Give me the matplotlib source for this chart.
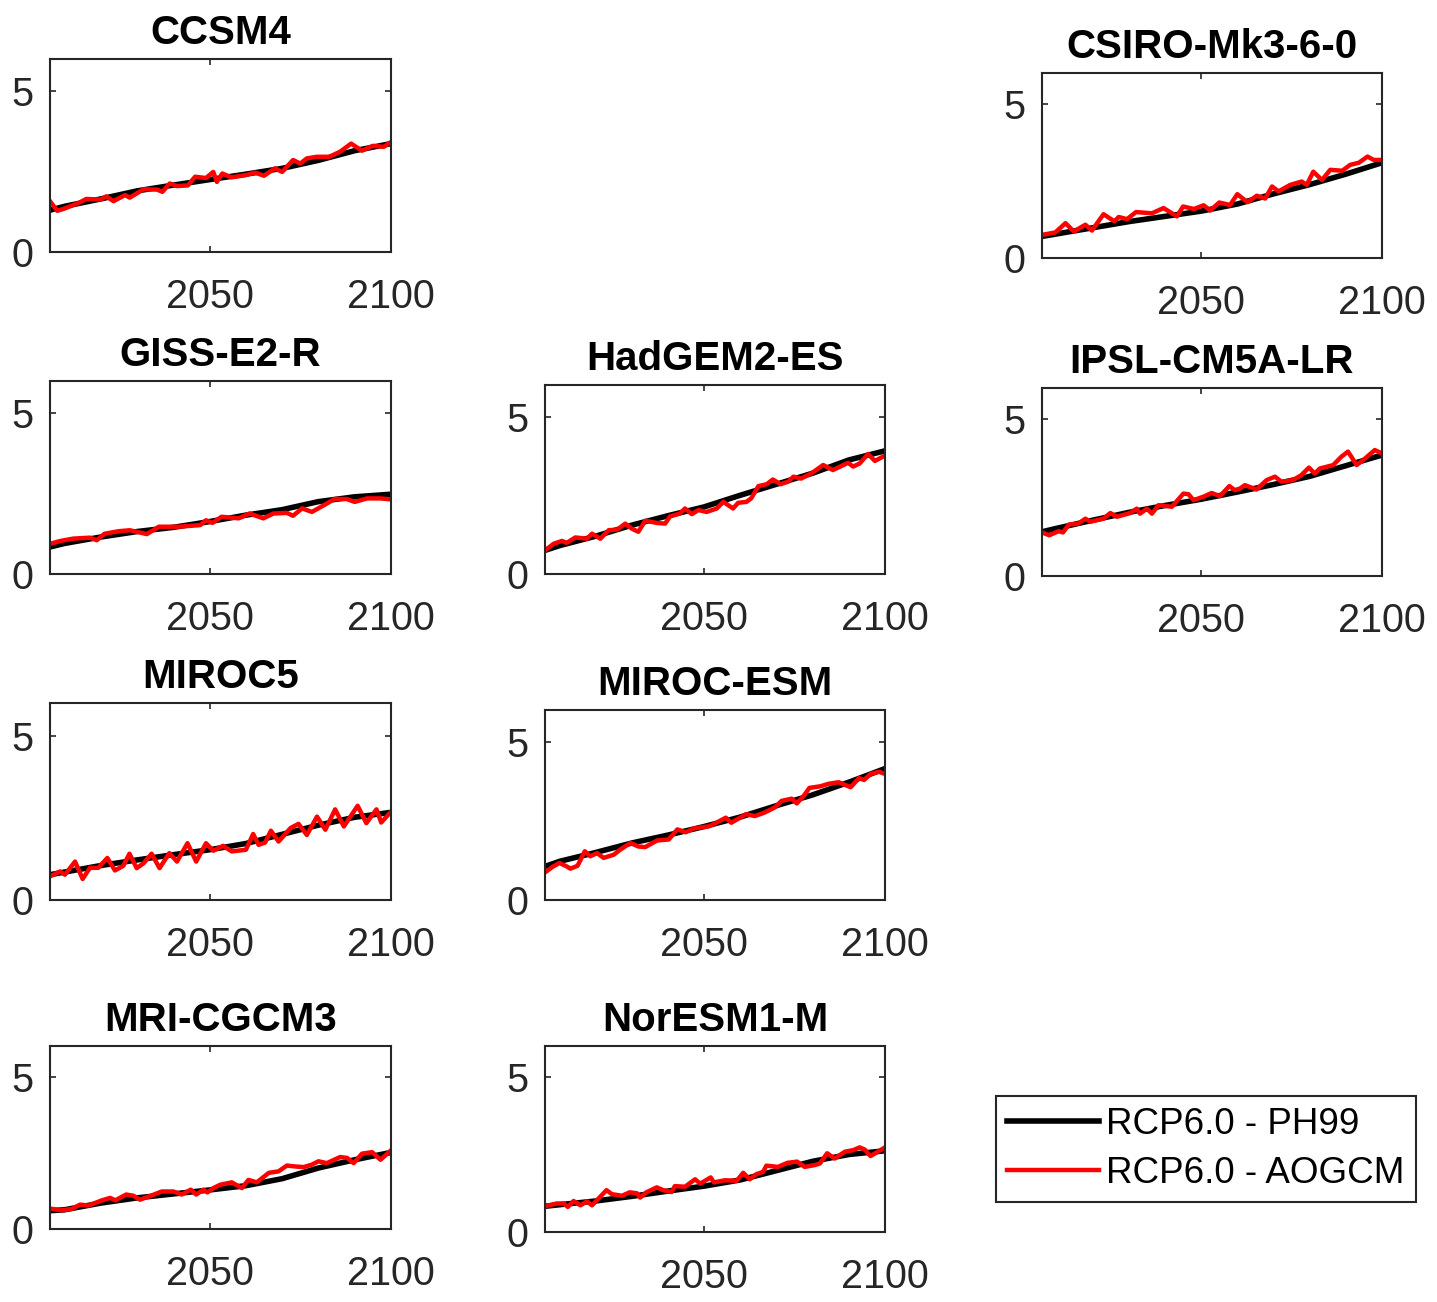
import matplotlib
matplotlib.use("Agg")
import matplotlib.pyplot as plt
from matplotlib.lines import Line2D

plt.rcParams['font.family'] = ['Liberation Sans', 'DejaVu Sans']

W, H = 1437, 1302

models = ["CCSM4", "CSIRO-Mk3-6-0", "GISS-E2-R", "HadGEM2-ES", "IPSL-CM5A-LR",
          "MIROC5", "MIROC-ESM", "MRI-CGCM3", "NorESM1-M"]

# smooth PH99 curves (decadal samples)
ph_years = [2006, 2010, 2020, 2030, 2040, 2050, 2060, 2070, 2080, 2090, 2100]
ph99 = {
    "CCSM4":         [1.30, 1.42, 1.65, 1.90, 2.08, 2.25, 2.42, 2.60, 2.85, 3.15, 3.37],
    "CSIRO-Mk3-6-0": [0.70, 0.78, 0.98, 1.18, 1.35, 1.52, 1.75, 2.08, 2.38, 2.72, 3.09],
    "GISS-E2-R":     [0.84, 0.95, 1.15, 1.32, 1.45, 1.63, 1.83, 2.00, 2.25, 2.40, 2.48],
    "HadGEM2-ES":    [0.75, 0.90, 1.20, 1.55, 1.85, 2.13, 2.50, 2.85, 3.20, 3.62, 3.91],
    "IPSL-CM5A-LR":  [1.41, 1.52, 1.78, 2.03, 2.25, 2.45, 2.68, 2.92, 3.18, 3.52, 3.86],
    "MIROC5":        [0.77, 0.85, 1.05, 1.22, 1.38, 1.53, 1.72, 2.00, 2.28, 2.52, 2.67],
    "MIROC-ESM":     [1.06, 1.22, 1.50, 1.80, 2.05, 2.32, 2.62, 2.98, 3.32, 3.72, 4.15],
    "MRI-CGCM3":     [0.60, 0.63, 0.85, 1.02, 1.15, 1.28, 1.42, 1.65, 2.00, 2.27, 2.51],
    "NorESM1-M":     [0.83, 0.88, 1.00, 1.15, 1.32, 1.48, 1.68, 1.98, 2.28, 2.50, 2.62],
}

# AOGCM series
ccsm4_yr = [2006, 2008, 2010, 2014, 2016, 2020, 2021.5, 2023.5, 2026.7, 2028, 2031.8, 2035.5, 2037, 2039, 2041,
            2044, 2046, 2049, 2051, 2052, 2053.5, 2056, 2060, 2062.5, 2065, 2068, 2070, 2073, 2075, 2076.8,
            2079.6, 2083, 2086, 2089, 2092, 2095, 2098, 2100]
ccsm4_v = [1.58, 1.28, 1.35, 1.53, 1.65, 1.63, 1.73, 1.58, 1.77, 1.69, 1.95, 1.94, 1.87, 2.13, 2.05,
           2.07, 2.34, 2.30, 2.49, 2.18, 2.44, 2.32, 2.39, 2.47, 2.37, 2.60, 2.49, 2.86, 2.75, 2.91,
           2.96, 2.96, 3.12, 3.37, 3.15, 3.30, 3.27, 3.42]

csiro_yr = [2006, 2009.7, 2012.5, 2014.8, 2018, 2019.8, 2023, 2026, 2027.2, 2029.5, 2032, 2036.4, 2039.6, 2043.3,
            2045, 2048, 2050.7, 2052.5, 2055, 2058, 2060, 2062.8, 2065.4, 2067.7, 2069.6, 2071.4, 2074.6, 2077.8,
            2079.2, 2081, 2083.4, 2085.7, 2089, 2091.2, 2093.6, 2096, 2097.7, 2100]
csiro_v = [0.75, 0.83, 1.13, 0.86, 1.08, 0.89, 1.42, 1.19, 1.33, 1.26, 1.49, 1.45, 1.62, 1.35,
           1.67, 1.59, 1.71, 1.54, 1.80, 1.72, 2.07, 1.81, 2.02, 1.93, 2.32, 2.16, 2.37, 2.48,
           2.37, 2.80, 2.53, 2.86, 2.83, 3.02, 3.09, 3.29, 3.18, 3.18]

giss_yr = [2006, 2009, 2012.4, 2017, 2018.9, 2021, 2024.9, 2028, 2032.7, 2036, 2041.4, 2047.4, 2049, 2050.8,
           2053.3, 2058, 2061, 2064.8, 2067.6, 2071.3, 2073, 2075.5, 2078.2, 2082, 2084.4, 2087.8, 2090,
           2093.4, 2097, 2100]
giss_v = [0.94, 1.03, 1.10, 1.13, 1.05, 1.25, 1.33, 1.36, 1.24, 1.47, 1.47, 1.52, 1.67, 1.59,
          1.78, 1.73, 1.88, 1.73, 1.88, 1.90, 1.81, 2.04, 1.93, 2.17, 2.33, 2.33, 2.24,
          2.35, 2.35, 2.32]

hadgem_yr = [2006, 2008.4, 2010.7, 2012, 2014.4, 2017.6, 2019, 2021.3, 2023.6, 2026, 2028.2, 2030, 2031.8, 2033.7,
             2037, 2039.2, 2040.6, 2043.3, 2044.7, 2046.6, 2048.4, 2050.7, 2053.5, 2055.3, 2058, 2059.4, 2061.7,
             2063, 2065, 2067.3, 2069, 2071.1, 2073.2, 2074.7, 2076.8, 2079.6, 2082.9, 2085.6, 2089.8, 2091.2,
             2093, 2095.3, 2097.2, 2100]
hadgem_v = [0.75, 0.96, 1.05, 0.99, 1.16, 1.12, 1.28, 1.12, 1.39, 1.41, 1.60, 1.44, 1.34, 1.69,
            1.62, 1.60, 1.83, 1.92, 2.08, 1.90, 2.03, 1.97, 2.08, 2.29, 2.08, 2.26, 2.29,
            2.40, 2.79, 2.85, 3.00, 2.85, 2.93, 3.09, 3.03, 3.19, 3.46, 3.30, 3.53, 3.41,
            3.51, 3.81, 3.59, 3.76]

ipsl_yr = [2006, 2008, 2010.6, 2011.8, 2013.4, 2016, 2018, 2019.3, 2023, 2024.9, 2026.7, 2030.4, 2032.2, 2033.1,
           2035, 2036.4, 2038.2, 2041.9, 2045.1, 2046.5, 2047.9, 2050.6, 2052.9, 2055.2, 2057.8, 2059.3, 2060.7,
           2062.1, 2065.3, 2068.1, 2070.4, 2072.2, 2075.4, 2077.7, 2079.8, 2081.4, 2082.8, 2086.5, 2088.8,
           2090.6, 2093, 2095.3, 2098, 2100]
ipsl_v = [1.39, 1.30, 1.43, 1.39, 1.64, 1.67, 1.83, 1.73, 1.83, 2.01, 1.89, 2.01, 2.15, 1.99,
          2.15, 1.99, 2.26, 2.21, 2.63, 2.61, 2.42, 2.53, 2.65, 2.55, 2.87, 2.74, 2.79,
          2.90, 2.76, 3.06, 3.17, 3.01, 3.06, 3.22, 3.46, 3.27, 3.43, 3.54, 3.81,
          3.97, 3.54, 3.75, 4.02, 3.91]

miroc5_yr = [2006, 2008.8, 2010.1, 2012.9, 2015, 2017, 2019.3, 2021.8, 2023.9, 2026.2, 2027.9, 2029.9, 2031.8,
             2034, 2036.2, 2038.9, 2041, 2043.9, 2046.3, 2049, 2051, 2053.7, 2056.1, 2060, 2062, 2063.5, 2065.3,
             2066.9, 2069, 2072.3, 2074.5, 2076.8, 2079.6, 2081.9, 2084.6, 2087, 2090.8, 2093.2, 2096, 2097.3,
             2100]
miroc5_v = [0.72, 0.87, 0.77, 1.17, 0.64, 0.98, 0.98, 1.28, 0.90, 1.04, 1.41, 0.97, 1.12,
            1.41, 0.97, 1.43, 1.17, 1.73, 1.17, 1.73, 1.50, 1.65, 1.48, 1.53, 2.01, 1.68, 1.75,
            2.11, 1.78, 2.19, 2.32, 1.98, 2.54, 2.14, 2.76, 2.24, 2.87, 2.34, 2.76, 2.36,
            2.69]

mirocesm_yr = [2006, 2008, 2010, 2012, 2013, 2015, 2017, 2018.5, 2020.4, 2022.2, 2025, 2026.8, 2029.6, 2031.8,
               2033.7, 2037, 2040.2, 2042.6, 2044.9, 2047.2, 2051.4, 2053.7, 2056, 2057.5, 2061.6, 2064, 2066.7,
               2069.5, 2071.4, 2074.2, 2075.6, 2077.4, 2079.1, 2082.1, 2084.4, 2087.2, 2090.5, 2092.8, 2094.2,
               2096, 2098.3, 2100]
mirocesm_v = [0.87, 1.04, 1.17, 1.06, 0.99, 1.08, 1.54, 1.38, 1.48, 1.33, 1.43, 1.59, 1.80, 1.69,
              1.67, 1.88, 1.91, 2.23, 2.14, 2.26, 2.33, 2.46, 2.60, 2.44, 2.71, 2.65, 2.76,
              2.92, 3.13, 3.20, 3.05, 3.27, 3.54, 3.59, 3.67, 3.72, 3.56, 3.85, 3.79,
              3.98, 4.05, 3.98]

mri_yr = [2006, 2009.2, 2012, 2014.3, 2016.6, 2020.3, 2022.6, 2024, 2027, 2029, 2030.8, 2034, 2036.8, 2040,
          2042.3, 2044.8, 2046.3, 2048.3, 2049.4, 2051, 2052.9, 2056.1, 2058.9, 2060.7, 2063, 2066.3, 2069,
          2071.3, 2073.6, 2075.9, 2078.2, 2080, 2082.3, 2086, 2087.9, 2089.7, 2092, 2094.8, 2097.1, 2100]
mri_v = [0.67, 0.61, 0.66, 0.80, 0.77, 0.94, 1.02, 0.94, 1.13, 1.09, 0.96, 1.10, 1.23, 1.23,
         1.13, 1.29, 1.13, 1.29, 1.20, 1.34, 1.45, 1.53, 1.34, 1.61, 1.53, 1.84, 1.89,
         2.08, 2.05, 2.03, 2.11, 2.22, 2.16, 2.36, 2.33, 2.16, 2.47, 2.52, 2.27, 2.58]

noresm_yr = [2006, 2009.3, 2011.2, 2012.3, 2013.9, 2015.8, 2017.6, 2019, 2020.8, 2023, 2024.5, 2027.3, 2029.4,
             2031.4, 2032.3, 2034, 2036.9, 2038.7, 2041, 2041.9, 2044.7, 2047.5, 2048.9, 2051.8, 2052.7, 2055.8,
             2059, 2060.8, 2062.6, 2064.5, 2066.3, 2067.2, 2070.4, 2073, 2075.7, 2077.8, 2080.6, 2082, 2084,
             2086.1, 2088.9, 2091.2, 2093, 2094.4, 2096, 2097.6, 2100]
noresm_v = [0.83, 0.92, 0.92, 0.81, 1.00, 0.86, 0.99, 0.86, 1.08, 1.35, 1.22, 1.17, 1.28,
            1.25, 1.11, 1.28, 1.44, 1.35, 1.29, 1.48, 1.46, 1.70, 1.56, 1.76, 1.60, 1.67,
            1.65, 1.91, 1.70, 1.87, 1.94, 2.14, 2.10, 2.23, 2.27, 2.10, 2.16, 2.21, 2.54,
            2.37, 2.59, 2.64, 2.73, 2.66, 2.45, 2.56, 2.73]

aogcm = {
    "CCSM4": (ccsm4_yr, ccsm4_v),
    "CSIRO-Mk3-6-0": (csiro_yr, csiro_v),
    "GISS-E2-R": (giss_yr, giss_v),
    "HadGEM2-ES": (hadgem_yr, hadgem_v),
    "IPSL-CM5A-LR": (ipsl_yr, ipsl_v),
    "MIROC5": (miroc5_yr, miroc5_v),
    "MIROC-ESM": (mirocesm_yr, mirocesm_v),
    "MRI-CGCM3": (mri_yr, mri_v),
    "NorESM1-M": (noresm_yr, noresm_v),
}

x_ticks = [2050, 2100]
y_ticks = [0, 5]
legend_labels = ["RCP6.0 - PH99", "RCP6.0 - AOGCM"]

# axes boxes in pixels: left, right, top, bottom
boxes = {
    "CCSM4": (50, 391, 59, 252),
    "CSIRO-Mk3-6-0": (1042, 1382, 73, 258),
    "GISS-E2-R": (50, 391, 381, 574),
    "HadGEM2-ES": (545, 885, 385, 574),
    "IPSL-CM5A-LR": (1042, 1382, 388, 576),
    "MIROC5": (50, 391, 703, 900),
    "MIROC-ESM": (545, 885, 710, 900),
    "MRI-CGCM3": (50, 391, 1046, 1229),
    "NorESM1-M": (545, 885, 1046, 1232),
}

fig = plt.figure(figsize=(W / 100, H / 100), dpi=100)
dark = '#262626'

for m in models:
    l, r, t, b = boxes[m]
    ax = fig.add_axes([l / W, 1 - b / H, (r - l) / W, (b - t) / H])
    ax.plot(ph_years, ph99[m], color='black', lw=4.0, solid_capstyle='butt')
    yr, v = aogcm[m]
    ax.plot(yr, v, color='#ff0000', lw=3.2, solid_joinstyle='round')
    ax.set_xlim(2006, 2100)
    ax.set_ylim(0, 6)
    ax.set_xticks(x_ticks)
    ax.set_yticks(y_ticks)
    ax.tick_params(direction='in', top=True, right=True, length=4, width=1.2,
                   colors=dark, labelsize=28.5)
    ax.tick_params(axis='x', pad=19)
    ax.tick_params(axis='y', pad=12)
    for s in ax.spines.values():
        s.set_color(dark)
        s.set_linewidth(1.5)
    ax.set_title(m, fontsize=29, fontweight='bold', pad=11)

handles = [Line2D([], [], color='black', lw=4.0), Line2D([], [], color='#ff0000', lw=3.2)]
leg = fig.legend(handles, legend_labels, loc='upper left',
                 bbox_to_anchor=(996 / W, 1 - 1096 / H), fontsize=26.5,
                 frameon=True, fancybox=False, edgecolor=dark, framealpha=1,
                 handlelength=2.5, handletextpad=0.2, borderpad=0.3,
                 labelspacing=0.38, borderaxespad=0)
leg.get_frame().set_linewidth(1.5)

fig.savefig('out.png', dpi=100)
